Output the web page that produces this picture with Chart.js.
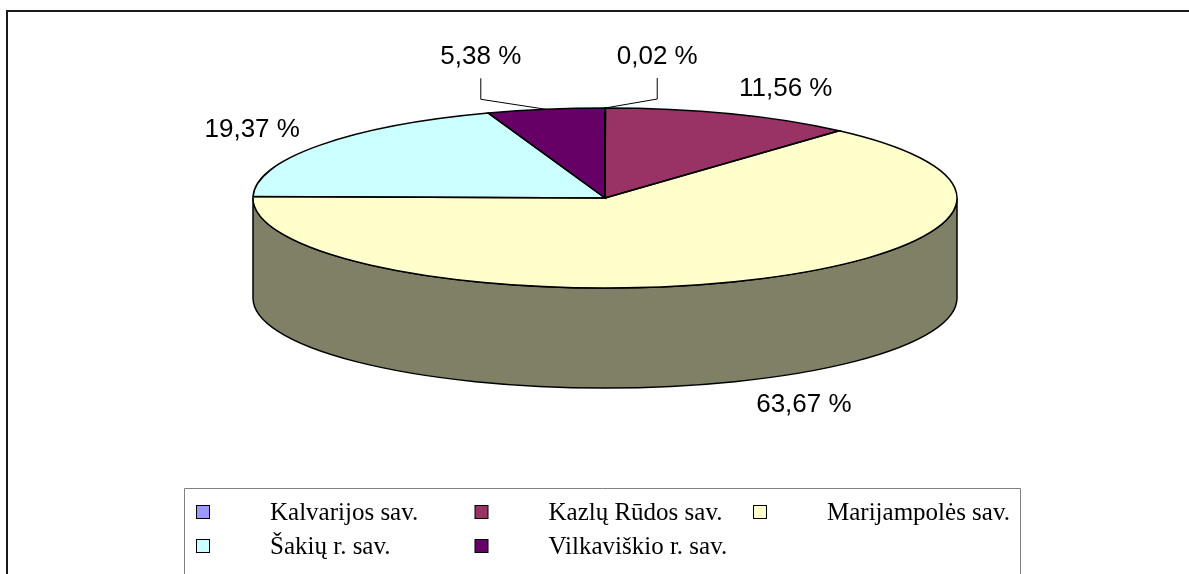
<!DOCTYPE html>
<html>
<head>
<meta charset="utf-8">
<script src="https://cdn.jsdelivr.net/npm/chart.js@4.4.1/dist/chart.umd.min.js"></script>
<style>
  html, body { margin: 0; padding: 0; background: #fff; overflow: hidden; }
  canvas { display: block; }
</style>
</head>
<body>
<canvas id="pie_chart" width="1189" height="574"></canvas>
<script>
// data
var labels = ['Kalvarijos sav.', 'Kazlų Rūdos sav.', 'Marijampolės sav.', 'Šakių r. sav.', 'Vilkaviškio r. sav.'];
var shares = [0.02, 11.56, 63.67, 19.37, 5.38];
var topColors = ['#9999FF', '#993366', '#FFFFCC', '#CCFFFF', '#660066'];
var sideColors = ['#4D4D80', '#4D1A33', '#808066', '#668080', '#330033'];

// look of the tilted pie
var CX = 605, CY = 198, RX = 352, RY = 90, DEPTH = 100;
var LABEL_RX = 376, LABEL_RY = 117;
// small slices get a label pulled off with a leader line (offset from rim point)
var leaderShift = [[52, -51], null, null, null, [-65, -52]];

function fmt(v) {
  return v.toFixed(2).replace('.', ',') + ' %';
}

function rim(a, dy) {
  return [CX + RX * Math.cos(a), CY + RY * Math.sin(a) + (dy || 0)];
}

var pie3d = {
  id: 'pie3d',
  beforeDatasetsDraw: function(chart) {
    var ctx = chart.ctx;
    var arcs = chart.getDatasetMeta(0).data;
    ctx.save();
    ctx.lineWidth = 1.5;
    ctx.strokeStyle = '#000';
    arcs.forEach(function(a, i) {
      var s = Math.max(a.startAngle, 0), e = Math.min(a.endAngle, Math.PI);
      if (s >= e) return;
      ctx.beginPath();
      ctx.ellipse(CX, CY, RX, RY, 0, s, e);
      ctx.ellipse(CX, CY + DEPTH, RX, RY, 0, e, s, true);
      ctx.closePath();
      ctx.fillStyle = sideColors[i];
      ctx.fill();
      ctx.stroke();
    });
    ctx.restore();
    // squash the library's round pie into the ellipse
    var a0 = arcs[0];
    ctx.save();
    ctx.translate(CX, CY);
    ctx.scale(RX / a0.outerRadius, RY / a0.outerRadius);
    ctx.translate(-a0.x, -a0.y);
  },
  afterDatasetsDraw: function(chart) {
    var ctx = chart.ctx;
    ctx.restore();
    var arcs = chart.getDatasetMeta(0).data;
    ctx.save();
    ctx.lineWidth = 1.5;
    ctx.strokeStyle = '#000';
    arcs.forEach(function(a) {
      var p = rim(a.startAngle);
      ctx.beginPath();
      ctx.moveTo(CX, CY);
      ctx.lineTo(p[0], p[1]);
      ctx.ellipse(CX, CY, RX, RY, 0, a.startAngle, a.endAngle);
      ctx.closePath();
      ctx.stroke();
    });

    // data labels
    ctx.font = '26px "Liberation Sans", Arial, sans-serif';
    ctx.fillStyle = '#000';
    ctx.textBaseline = 'middle';
    arcs.forEach(function(a, i) {
      var m = (a.startAngle + a.endAngle) / 2;
      var txt = fmt(shares[i]);
      if (leaderShift[i]) {
        var p = rim(m);
        var lx = p[0] + leaderShift[i][0], ly = p[1] + leaderShift[i][1];
        ctx.lineWidth = 1;
        ctx.beginPath();
        ctx.moveTo(p[0], p[1]);
        ctx.lineTo(lx, ly + 42);
        ctx.lineTo(lx, ly + 21);
        ctx.stroke();
        ctx.textAlign = 'center';
        ctx.fillText(txt, lx, ly);
        return;
      }
      var x = CX + LABEL_RX * Math.cos(m);
      var y = CY + LABEL_RY * Math.sin(m) + (Math.sin(m) > 0 ? DEPTH : 0);
      ctx.textAlign = Math.cos(m) >= 0 ? 'left' : 'right';
      ctx.fillText(txt, x, y);
    });
    ctx.restore();
  },
  afterDraw: function(chart) {
    var ctx = chart.ctx;
    ctx.save();
    // outer frame
    ctx.strokeStyle = '#1a1a1a';
    ctx.lineWidth = 2;
    ctx.beginPath();
    ctx.moveTo(7, 574);
    ctx.lineTo(7, 11);
    ctx.lineTo(1189, 11);
    ctx.stroke();

    // legend box
    var left = 184.5, top = 488.5, right = 1020.5;
    ctx.strokeStyle = '#808080';
    ctx.lineWidth = 1;
    ctx.beginPath();
    ctx.moveTo(left, 574);
    ctx.lineTo(left, top);
    ctx.lineTo(right, top);
    ctx.lineTo(right, 574);
    ctx.stroke();

    ctx.font = '25px "Liberation Serif", "Times New Roman", serif';
    ctx.textAlign = 'left';
    ctx.textBaseline = 'middle';
    labels.forEach(function(lbl, i) {
      var col = i % 3, row = Math.floor(i / 3);
      var sx = 203 + col * 278.5, sy = 512 + row * 34;
      ctx.fillStyle = topColors[i];
      ctx.fillRect(sx - 6.5, sy - 6.5, 13, 13);
      ctx.strokeStyle = '#000';
      ctx.strokeRect(sx - 6.5, sy - 6.5, 13, 13);
      ctx.fillStyle = '#000';
      ctx.fillText(lbl, sx + 67, sy + 1);
    });
    ctx.restore();
  }
};

var pieChart = new Chart(document.getElementById('pie_chart'), {
  type: 'pie',
  data: {
    labels: labels,
    datasets: [{
      data: shares,
      backgroundColor: topColors,
      borderWidth: 0,
      clip: false
    }]
  },
  options: {
    responsive: false,
    animation: false,
    events: [],
    layout: { padding: 0 },
    plugins: {
      legend: { display: false },
      tooltip: { enabled: false }
    }
  },
  plugins: [pie3d]
});
</script>
</body>
</html>
